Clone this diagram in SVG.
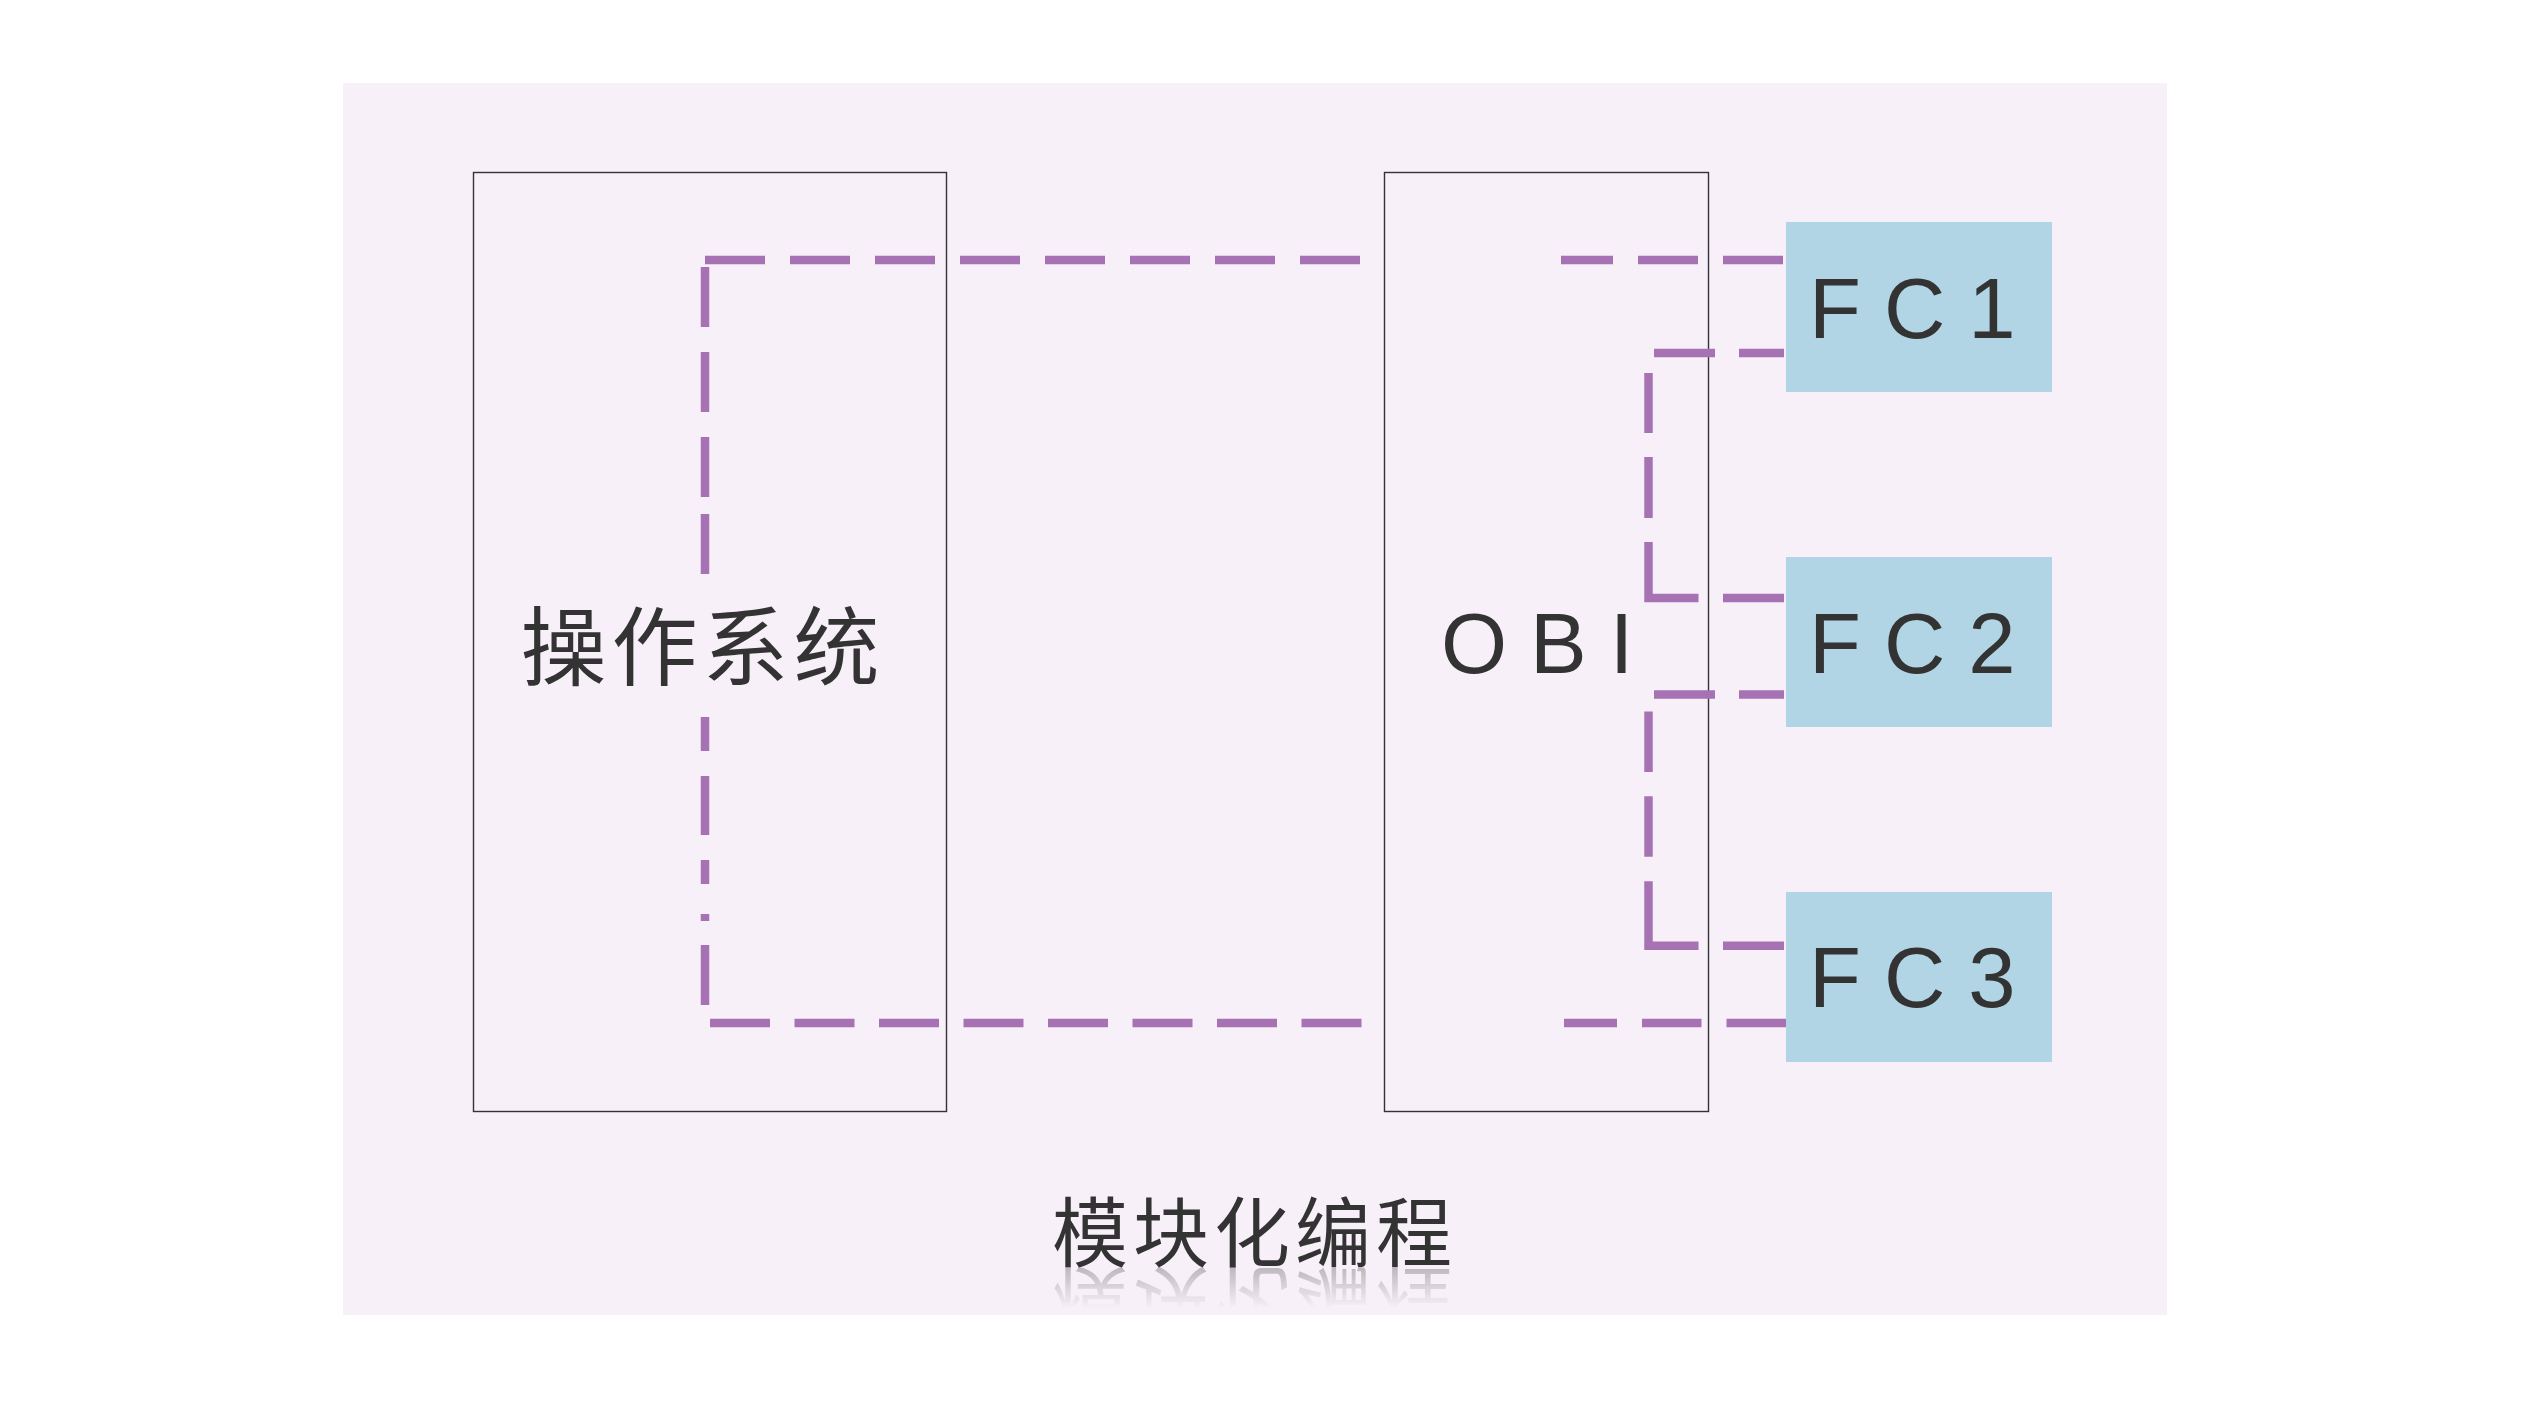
<svg xmlns="http://www.w3.org/2000/svg" width="2528" height="1422" viewBox="0 0 2528 1422">
<style>
.box{fill:none;stroke:#333333;stroke-width:1.4}
.fc{fill:#B1D5E4}
.ln{fill:none;stroke:#A672B4;stroke-width:8.5;stroke-linecap:butt;stroke-linejoin:miter}
.cjk{font-family:"Noto Sans CJK SC","Noto Sans CJK TC",sans-serif;fill:#333333}
.lat{font-family:"Liberation Sans",Arial,sans-serif;fill:#333333;font-size:85px;letter-spacing:23px}
</style>
<defs>
<linearGradient id="fade" x1="0" y1="1267" x2="0" y2="1308" gradientUnits="userSpaceOnUse">
<stop offset="0" stop-color="#ffffff" stop-opacity="0.3"/>
<stop offset="1" stop-color="#ffffff" stop-opacity="0"/>
</linearGradient>
<mask id="refl" maskUnits="userSpaceOnUse" x="0" y="1260" width="2528" height="80">
<rect x="0" y="1267" width="2528" height="50" fill="url(#fade)"/>
</mask>
</defs>
<rect x="0" y="0" width="2528" height="1422" fill="#ffffff"/>
<rect id="background" x="343" y="83" width="1824" height="1232" fill="#F7F0F8"/>

<g id="node-os">
<rect class="box" x="473.5" y="172.5" width="473" height="939"/>
<text class="cjk" x="520.5" y="679" font-size="86" letter-spacing="5">操作系统</text>
</g>
<g id="node-obi">
<rect class="box" x="1384.5" y="172.5" width="324" height="939"/>
<text class="lat" x="1441" y="672.5">OBI</text>
</g>

<g id="connectors">
<path class="ln" d="M705 260 H1360" stroke-dasharray="60 25"/>
<path class="ln" d="M1783 260 H1561" stroke-dasharray="60 25"/>
<path class="ln" d="M710 1023 H1363" stroke-dasharray="60 24.5"/>
<path class="ln" d="M1786 1023 H1564" stroke-dasharray="59.5 25"/>
<path class="ln" d="M705 267 V1005" stroke-dasharray="60 25 60 25 60 17 60 143 34 25 59 25 24 30 7 24 60"/>
<path class="ln" d="M1784 353 H1654" stroke-dasharray="45 24 61"/>
<path class="ln" d="M1648.5 373 V598 H1784" stroke-dasharray="60 24 61 24 106 24.5 61"/>
<path class="ln" d="M1784 694.6 H1654" stroke-dasharray="45 24 61"/>
<path class="ln" d="M1648.5 711.5 V945.7 H1784" stroke-dasharray="60.5 24.3 60.4 24.6 114.4 24.5 61"/>
</g>

<g id="node-fc1">
<rect class="fc" x="1786" y="222" width="266" height="170"/>
<text class="lat" x="1809" y="337.5">FC1</text>
</g>
<g id="node-fc2">
<rect class="fc" x="1786" y="557" width="266" height="170"/>
<text class="lat" x="1809" y="672.5">FC2</text>
</g>
<g id="node-fc3">
<rect class="fc" x="1786" y="892" width="266" height="170"/>
<text class="lat" x="1809" y="1007">FC3</text>
</g>

<g id="title">
<text class="cjk" x="1052" y="1261" font-size="76" letter-spacing="5">模块化编程</text>
<g mask="url(#refl)">
<text class="cjk" x="1052" y="1261" font-size="76" letter-spacing="5" transform="translate(0,2534) scale(1,-1)">模块化编程</text>
</g>
</g>
</svg>
